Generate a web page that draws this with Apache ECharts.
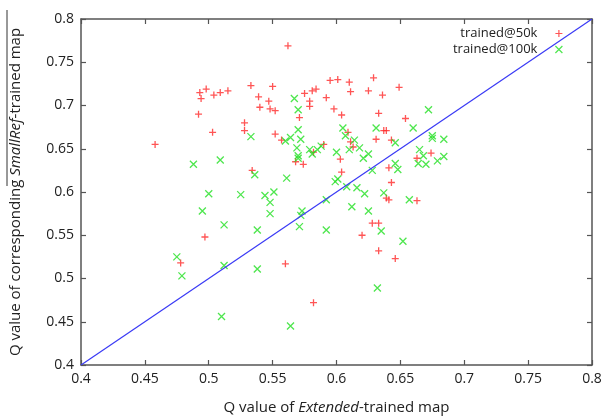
<!DOCTYPE html>
<html>
<head>
<meta charset="utf-8">
<script src="https://cdn.jsdelivr.net/npm/echarts@6/dist/echarts.min.js"></script>
<style>
  html, body { margin: 0; padding: 0; background: #fff; }
  #main { width: 606px; height: 420px; }
</style>
</head>
<body>
<div id="main"></div>
<script>
var chart = echarts.init(document.getElementById('main'));

// [Extended-trained Q, SmallRef-trained Q]
var trained50k = [
  [0.458, 0.655], [0.492, 0.690], [0.493, 0.715], [0.494, 0.708], [0.498, 0.719],
  [0.503, 0.669], [0.504, 0.712], [0.509, 0.715], [0.515, 0.717], [0.528, 0.680],
  [0.528, 0.671], [0.533, 0.723], [0.539, 0.710], [0.540, 0.698], [0.534, 0.625],
  [0.562, 0.769], [0.550, 0.722], [0.547, 0.705], [0.548, 0.696], [0.552, 0.694],
  [0.575, 0.714], [0.581, 0.717], [0.584, 0.719], [0.579, 0.705], [0.579, 0.699],
  [0.571, 0.686], [0.592, 0.709], [0.595, 0.729], [0.601, 0.730], [0.610, 0.727],
  [0.611, 0.716], [0.598, 0.696], [0.604, 0.689], [0.629, 0.732], [0.625, 0.717],
  [0.636, 0.712], [0.649, 0.721], [0.633, 0.691], [0.654, 0.685], [0.552, 0.667],
  [0.557, 0.660], [0.568, 0.635], [0.574, 0.632], [0.582, 0.646], [0.590, 0.655],
  [0.611, 0.658], [0.613, 0.652], [0.603, 0.638], [0.637, 0.671], [0.639, 0.671],
  [0.631, 0.661], [0.643, 0.660], [0.641, 0.628], [0.663, 0.639], [0.604, 0.623],
  [0.643, 0.611], [0.609, 0.669], [0.674, 0.645], [0.497, 0.548], [0.478, 0.518],
  [0.639, 0.593], [0.641, 0.591], [0.663, 0.590], [0.628, 0.564], [0.633, 0.564],
  [0.620, 0.550], [0.633, 0.532], [0.646, 0.523], [0.560, 0.517], [0.582, 0.472]
];

var trained100k = [
  [0.533, 0.664], [0.488, 0.632], [0.509, 0.637], [0.536, 0.620], [0.567, 0.708],
  [0.570, 0.695], [0.570, 0.672], [0.560, 0.659], [0.564, 0.663], [0.572, 0.661],
  [0.569, 0.651], [0.570, 0.642], [0.570, 0.639], [0.579, 0.649], [0.581, 0.644],
  [0.585, 0.649], [0.588, 0.653], [0.600, 0.646], [0.605, 0.674], [0.607, 0.665],
  [0.614, 0.660], [0.610, 0.649], [0.618, 0.651], [0.621, 0.639], [0.625, 0.644],
  [0.628, 0.625], [0.631, 0.674], [0.646, 0.657], [0.660, 0.674], [0.665, 0.649],
  [0.668, 0.642], [0.664, 0.633], [0.646, 0.633], [0.648, 0.626], [0.561, 0.616],
  [0.599, 0.612], [0.601, 0.615], [0.616, 0.605], [0.608, 0.606], [0.672, 0.695],
  [0.675, 0.665], [0.675, 0.662], [0.684, 0.661], [0.684, 0.641], [0.679, 0.636],
  [0.670, 0.632], [0.500, 0.598], [0.525, 0.597], [0.495, 0.578], [0.512, 0.562],
  [0.538, 0.556], [0.475, 0.525], [0.479, 0.503], [0.512, 0.515], [0.538, 0.511],
  [0.510, 0.456], [0.544, 0.596], [0.551, 0.600], [0.548, 0.588], [0.548, 0.575],
  [0.573, 0.578], [0.572, 0.573], [0.571, 0.560], [0.592, 0.591], [0.592, 0.556],
  [0.622, 0.598], [0.612, 0.583], [0.625, 0.578], [0.637, 0.599], [0.657, 0.591],
  [0.635, 0.555], [0.652, 0.543], [0.632, 0.489], [0.564, 0.445]
];

// y = x reference
var diagLine = [[0.4, 0.4], [0.8, 0.8]];

var axisMin = 0.4;
var axisMax = 0.8;
var axisStep = 0.05;

var font = 'Open Sans';
var axisColor = '#555';

function frameAxis(pos, showLabel) {
  return {
    type: 'value',
    position: pos,
    min: axisMin,
    max: axisMax,
    interval: axisStep,
    axisLine: { show: true, onZero: false, lineStyle: { color: axisColor, width: 1.5 } },
    axisTick: { show: true, inside: true, length: 5, lineStyle: { color: axisColor, width: 1.2 } },
    axisLabel: { show: showLabel, fontSize: 14, color: '#222', fontFamily: font, margin: 7 },
    splitLine: { show: false }
  };
}

var xBottom = frameAxis('bottom', true);
xBottom.name = 'Q value of {i|Extended}-trained map';
xBottom.nameLocation = 'middle';
xBottom.nameGap = 35;
xBottom.nameTextStyle = {
  fontSize: 15, color: '#222', fontFamily: font,
  rich: { i: { fontStyle: 'italic', fontSize: 15, color: '#222', fontFamily: font } }
};

var yLeft = frameAxis('left', true);
yLeft.name = 'Q value of corresponding {i|SmallRef}-trained map';
yLeft.nameLocation = 'middle';
yLeft.nameGap = 58;
yLeft.nameTextStyle = xBottom.nameTextStyle;

var plusSymbol = 'path://M4,0L4,8M0,4L8,4';
var crossSymbol = 'path://M0,0L8,8M8,0L0,8';

chart.setOption({
  backgroundColor: '#fff',
  animation: false,
  grid: { left: 81, right: 14, top: 19, bottom: 53 },
  legend: {
    data: ['trained@50k', 'trained@100k'],
    orient: 'vertical',
    right: 38,
    top: 22,
    align: 'right',
    itemWidth: 7,
    itemHeight: 7,
    itemGap: 3,
    itemStyle: { borderWidth: 1.2 },
    textStyle: { fontSize: 13, color: '#222', fontFamily: font, padding: [0, 13, 0, 0] }
  },
  xAxis: [xBottom, frameAxis('top', false)],
  yAxis: [yLeft, frameAxis('right', false)],
  graphic: [{
    type: 'line',
    shape: { x1: 7, y1: 186, x2: 7, y2: 10 },
    style: { stroke: '#333', lineWidth: 1 }
  }],
  series: [{
    name: 'trained@50k',
    type: 'scatter',
    symbol: plusSymbol,
    symbolSize: 7,
    itemStyle: { color: 'rgba(0,0,0,0)', borderColor: '#ff2b2b', borderWidth: 1.3 },
    data: trained50k
  }, {
    name: 'trained@100k',
    type: 'scatter',
    symbol: crossSymbol,
    symbolSize: 7,
    itemStyle: { color: 'rgba(0,0,0,0)', borderColor: '#22e022', borderWidth: 1.3 },
    data: trained100k
  }, {
    name: 'y=x',
    type: 'line',
    symbol: 'none',
    silent: true,
    lineStyle: { color: '#3a3af5', width: 1.2 },
    data: diagLine
  }]
});
</script>
</body>
</html>
